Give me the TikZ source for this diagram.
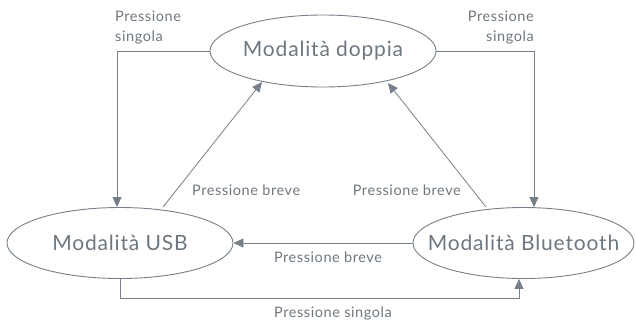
\documentclass[tikz,border=0pt]{standalone}
\usepackage{fontspec}
\setmainfont{Lato}[LetterSpace=4]
\usetikzlibrary{arrows.meta,shapes.geometric}
\definecolor{ln}{HTML}{75808A}
\definecolor{tx}{HTML}{6E7780}
\tikzset{
  state/.style={draw=ln, line width=0.9pt, ellipse, inner xsep=-40pt, inner ysep=0pt, text=tx, font=\fontsize{21}{24}\selectfont},
  conn/.style={draw=ln, line width=0.8pt, -{Triangle[length=10pt,width=9pt]}},
  lbl/.style={text=tx, font=\fontsize{14.5}{20}\selectfont, inner sep=0pt}
}
\begin{document}
\begin{tikzpicture}[x=1pt,y=-1pt]
\useasboundingbox (0,0) rectangle (636,322);
\node[state, minimum width=226pt, minimum height=72pt] (dop) at (323,51) {Modalità doppia};
\node[state, minimum width=226pt, minimum height=71pt] (usb) at (120,243) {Modalità USB};
\node[state, minimum width=221pt, minimum height=71pt] (bt) at (523.5,243) {Modalità Bluetooth};
\coordinate (c1) at (117,51);
\coordinate (c2) at (534,51);
\coordinate (c3) at (120,298);
\coordinate (c4) at (519,298);
\draw[conn] (dop.west) -- (c1) -- (usb.north -| c1);
\draw[conn] (dop.east) -- (c2) -- (bt.north -| c2);
\draw[conn] (163,207) coordinate (s1) -- (262,82) coordinate (t1);
\draw[conn] (486,207) coordinate (s2) -- (388,83) coordinate (t2);
\draw[conn] (bt.west) -- (usb.east);
\draw[conn] (usb.south) -- (c3) -- (c4) -- (c4 |- bt.south);
\node[lbl, anchor=west, align=left] (l1) at (115,28) {Pressione\\singola};
\node[lbl, anchor=east, align=right] (l2) at (534,28) {Pressione\\singola};
\node[lbl, anchor=west] (l3) at (192,190) {Pressione breve};
\node[lbl, anchor=east] (l4) at (461,190) {Pressione breve};
\node[lbl] (l5) at (328,257) {Pressione breve};
\node[lbl] (l6) at (333,313) {Pressione singola};
\end{tikzpicture}
\end{document}
